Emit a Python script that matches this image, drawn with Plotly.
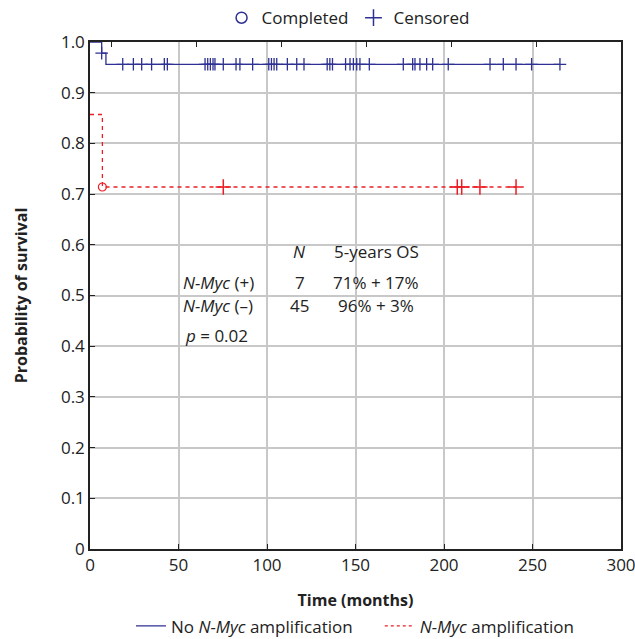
import plotly.graph_objects as go

# ---- data ----
blue_times = [0, 6.6, 9, 265.5]
blue_surv = [1.0, 0.978, 0.956, 0.956]
blue_censor_t = [6.6, 18.5, 24.5, 29.2, 34.8, 42, 43.7,
                 65, 66.5, 68, 69.5, 70.6, 75.3, 82.5, 84.7, 91.9,
                 101, 102.5, 104, 105.5, 111.5, 116.8, 120.9,
                 134, 135.5, 137, 144.4, 146.9, 148.8, 150.7, 152.5, 157.8,
                 177, 182.3, 183.6, 186.4, 190.2, 193.6,
                 202.4, 226, 233.5, 240.7, 249.5, 265.5]
blue_censor_s = [0.978] + [0.956] * (len(blue_censor_t) - 1)

red_times = [0, 7, 240.7]
red_surv = [0.857, 0.714, 0.714]
red_event_t = [7]
red_event_s = [0.714]
red_censor_t = [75.3, 207.5, 210, 220.3, 240.7]
red_censor_s = [0.714] * 5

x_ticks = [0, 50, 100, 150, 200, 250, 300]
y_ticks = [0, 0.1, 0.2, 0.3, 0.4, 0.5, 0.6, 0.7, 0.8, 0.9, 1.0]
y_labels = ["0", "0.1", "0.2", "0.3", "0.4", "0.5", "0.6", "0.7", "0.8", "0.9", "1.0"]
top_ticks = [12, 60, 108, 156, 204, 252]

BLUE = "#2e3192"
RED = "#ed1c24"
FONT = "Open Sans"
FS = 17
NB = "\u00a0"

fig = go.Figure()

fig.add_trace(go.Scatter(x=blue_times, y=blue_surv, mode="lines",
                         line=dict(color=BLUE, width=1.3, shape="hv"),
                         showlegend=False, hoverinfo="skip"))
fig.add_trace(go.Scatter(x=blue_censor_t, y=blue_censor_s, mode="markers",
                         marker=dict(symbol="cross-thin", size=9,
                                     line=dict(color=BLUE, width=1.3)),
                         showlegend=False))
fig.add_trace(go.Scatter(x=red_times, y=red_surv, mode="lines",
                         line=dict(color=RED, width=1.3, shape="hv", dash="4px,4px"),
                         showlegend=False, hoverinfo="skip"))
fig.add_trace(go.Scatter(x=red_censor_t, y=red_censor_s, mode="markers",
                         marker=dict(symbol="cross-thin", size=11,
                                     line=dict(color=RED, width=1.5)),
                         showlegend=False))
fig.add_trace(go.Scatter(x=red_event_t, y=red_event_s, mode="markers",
                         marker=dict(symbol="circle-open", size=8,
                                     color=RED, line=dict(color=RED, width=1.2)),
                         showlegend=False))

# top legend
fig.add_trace(go.Scatter(x=[None], y=[None], mode="markers", name="Completed",
                         marker=dict(symbol="circle-open", size=11, color=BLUE,
                                     line=dict(color=BLUE, width=1.5)),
                         legend="legend"))
fig.add_trace(go.Scatter(x=[None], y=[None], mode="markers", name="Censored",
                         marker=dict(symbol="cross-thin", size=12,
                                     line=dict(color=BLUE, width=1.5)),
                         legend="legend"))
# bottom legend
fig.add_trace(go.Scatter(x=[None], y=[None], mode="lines",
                         name="No <i>N-Myc</i> amplification" + NB * 5,
                         line=dict(color=BLUE, width=1.3), legend="legend2"))
fig.add_trace(go.Scatter(x=[None], y=[None], mode="lines",
                         name="<i>N-Myc</i> amplification",
                         line=dict(color=RED, width=1.3, dash="dot"), legend="legend2"))

# invisible trace for top mirror ticks axis
fig.add_trace(go.Scatter(x=[0], y=[0], xaxis="x2", mode="markers",
                         marker=dict(opacity=0), showlegend=False, hoverinfo="skip"))

ann_font = dict(family=FONT, size=FS, color="#222")
anns = [
    dict(x=118.6, y=0.586, text="<i>N</i>", xanchor="center"),
    dict(x=161.6, y=0.586, text="5-years OS", xanchor="center"),
    dict(x=51.5, y=0.525, text="<i>N-Myc</i> (+)", xanchor="left"),
    dict(x=118.6, y=0.525, text="7", xanchor="center"),
    dict(x=161.6, y=0.525, text="71% + 17%", xanchor="center"),
    dict(x=51.5, y=0.481, text="<i>N-Myc</i> (–)", xanchor="left"),
    dict(x=118.6, y=0.481, text="45", xanchor="center"),
    dict(x=161.6, y=0.481, text="96% + 3%", xanchor="center"),
    dict(x=52.5, y=0.422, text="<i>p</i> = 0.02", xanchor="left"),
]
for a in anns:
    fig.add_annotation(xref="x", yref="y", showarrow=False, yanchor="middle",
                       font=ann_font, **a)

fig.update_layout(
    width=635, height=639,
    margin=dict(l=90, r=14, t=42, b=90, autoexpand=False),
    plot_bgcolor="white", paper_bgcolor="white",
    font=dict(family=FONT, size=FS, color="#222"),
    xaxis=dict(range=[0, 300], tickvals=x_ticks, showgrid=True,
               gridcolor="#c8c8c8", gridwidth=1.5, zeroline=False,
               showline=True, linecolor="#222", linewidth=1.5, mirror=True,
               ticks="inside", ticklen=5, tickcolor="#222", tickfont=dict(size=FS),
               automargin=False, ticklabeloverflow="allow",
               title=dict(text="<b>Time (months)</b>", font=dict(size=16), standoff=20)),
    xaxis2=dict(range=[0, 300], overlaying="x", side="top", tickvals=top_ticks,
                showticklabels=False, ticks="inside", ticklen=5, tickcolor="#222",
                showgrid=False, zeroline=False, showline=False, automargin=False),
    yaxis=dict(range=[0, 1.0], tickvals=y_ticks, ticktext=y_labels, showgrid=True,
               gridcolor="#c8c8c8", gridwidth=1.5, zeroline=False,
               showline=True, linecolor="#222", linewidth=1.5, mirror=True,
               ticks="inside", ticklen=5, tickcolor="#222", tickfont=dict(size=FS),
               automargin=False,
               title=dict(text="<b>Probability of survival</b>", font=dict(size=16), standoff=29)),
    legend=dict(orientation="h", x=0.486, y=1.047, xref="paper", yref="paper",
                xanchor="center", yanchor="middle",
                font=dict(size=FS), itemwidth=30, bgcolor="rgba(0,0,0,0)"),
    legend2=dict(orientation="h", x=0.5, y=-0.188, xref="paper", yref="paper",
                 xanchor="center", yanchor="bottom",
                 font=dict(size=FS), itemwidth=30, bgcolor="rgba(0,0,0,0)"),
    showlegend=True,
)

fig.write_html("out.html", config={"displayModeBar": False},
               post_script="document.body.style.margin='0';document.body.style.padding='0';")
